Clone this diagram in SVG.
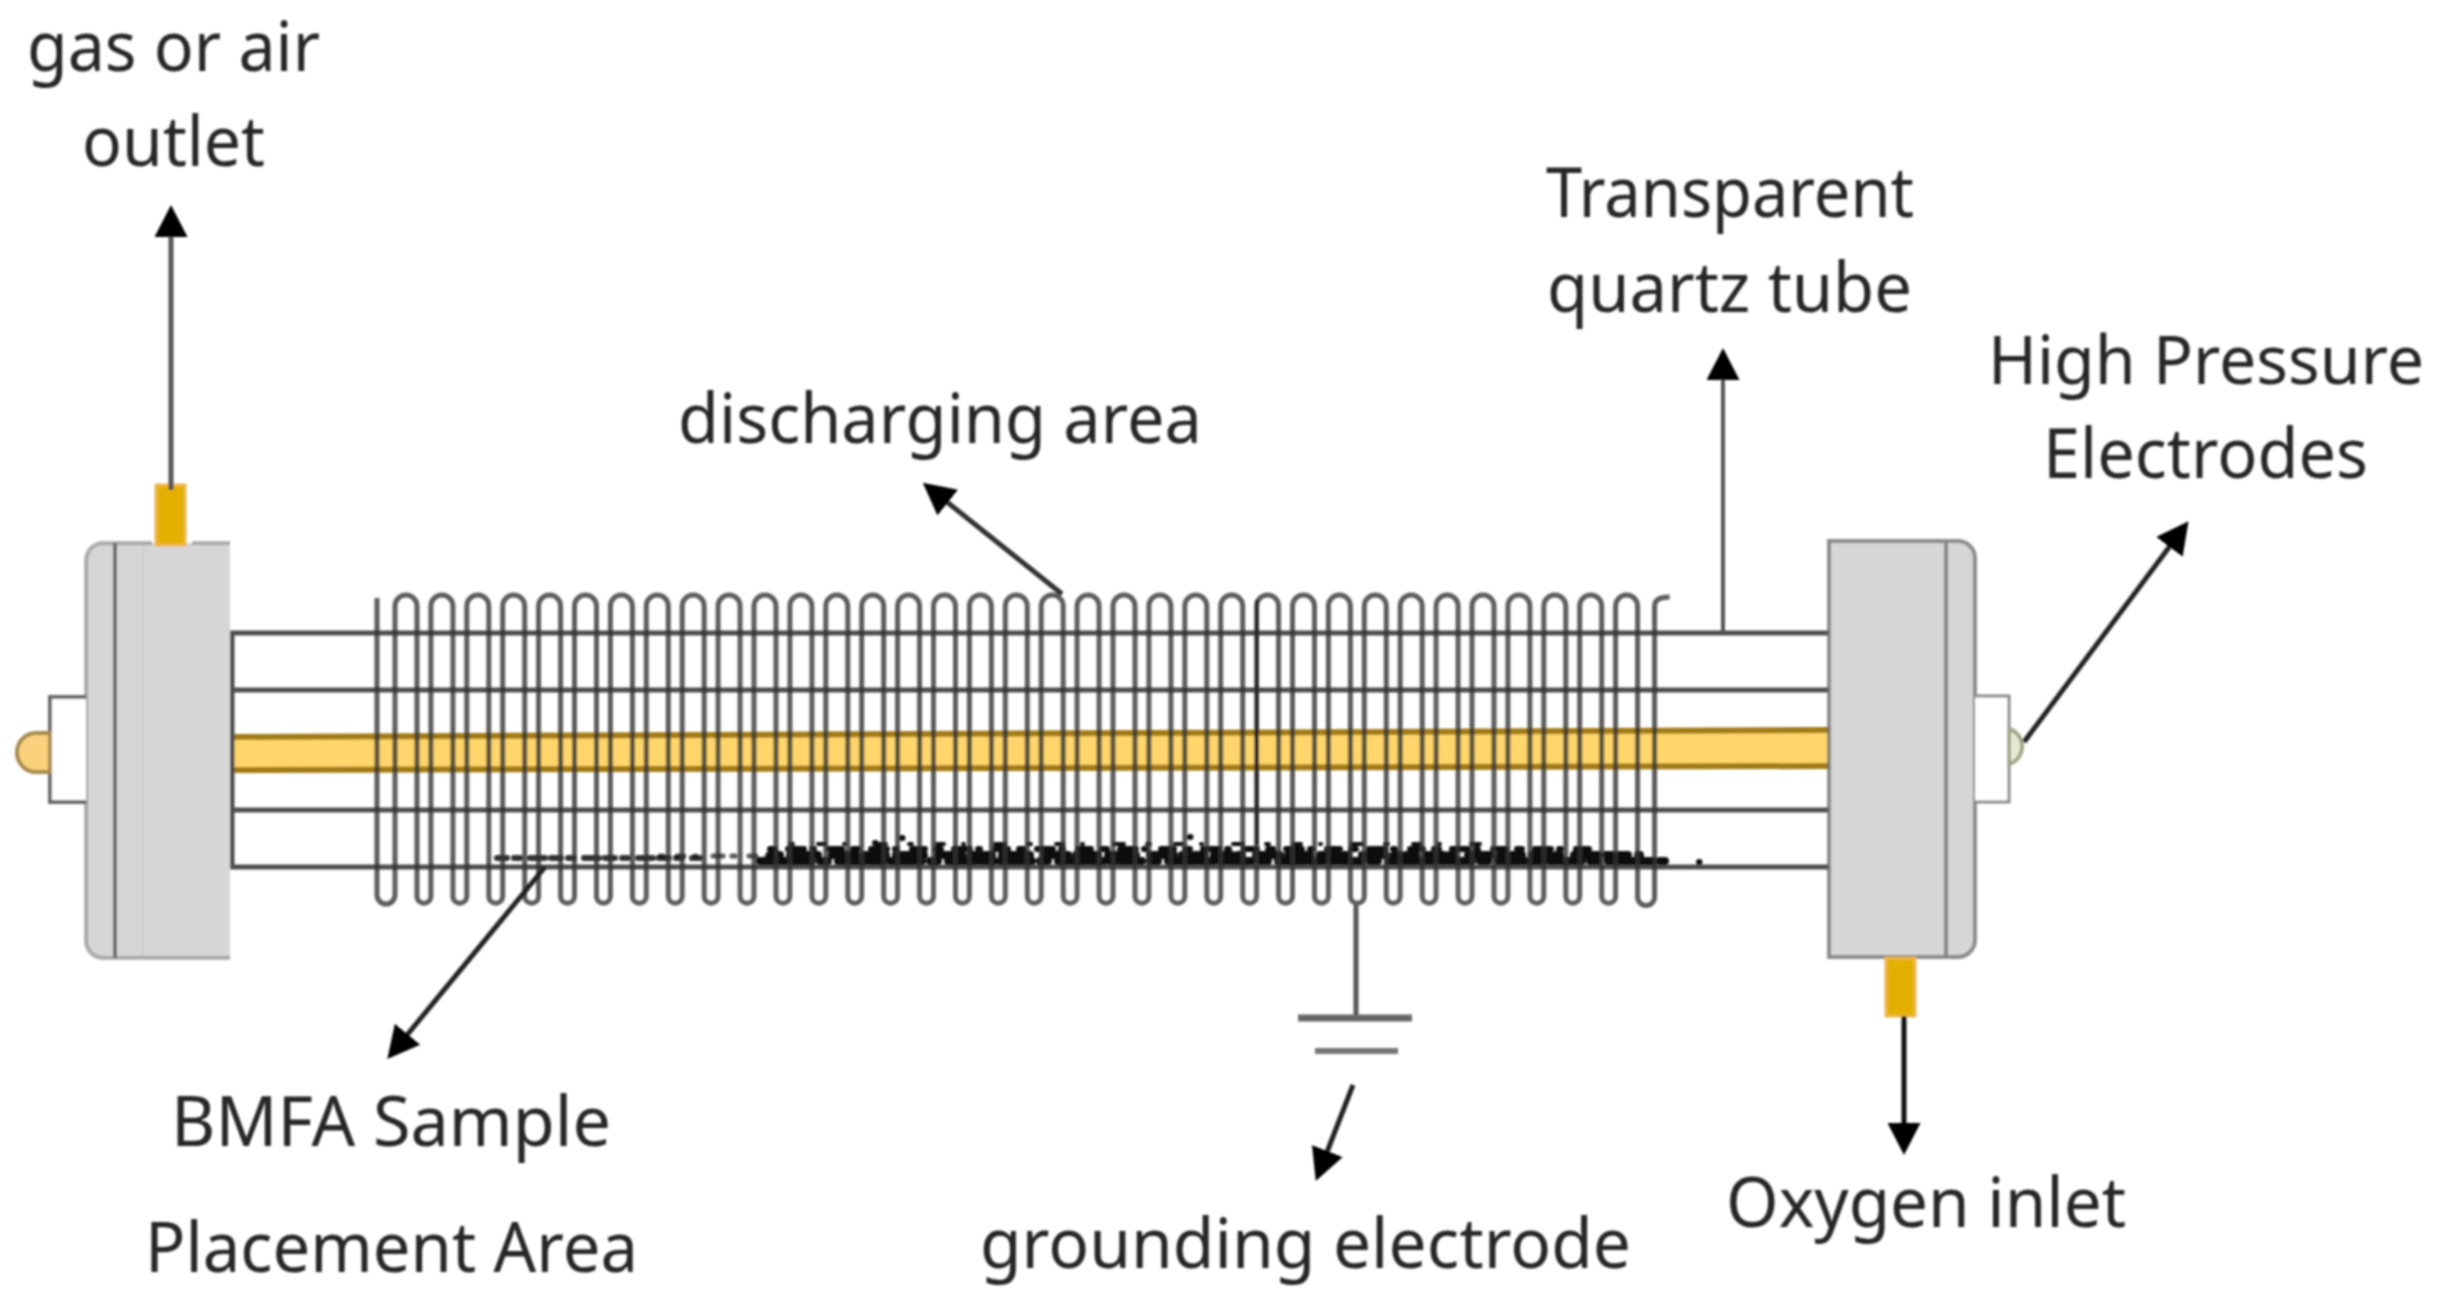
<svg xmlns="http://www.w3.org/2000/svg" width="2439" height="1299" viewBox="0 0 2439 1299">
  <style>
    text { font-family: "Noto Sans", "Open Sans", "Liberation Sans", sans-serif; font-size: 70px; fill: #262626; }
    .flange { fill: #d6d6d6; }
    .edge { fill: none; stroke: #6a6a6a; stroke-width: 4; }
    .tube { fill: none; stroke: #4e4e4e; stroke-width: 5; }
    .pipe { fill: #e3b000; stroke: #eeb64a; stroke-width: 3; }
    .band { fill: #ffd56c; }
    .band-edge { fill: none; stroke: #a27c16; stroke-width: 6; }
    .coil { fill: none; stroke: #333; stroke-opacity: 0.8; stroke-width: 5; }
    .arrow { fill: none; stroke: #333; stroke-width: 5; marker-end: url(#head); }
    .grit { fill: none; stroke: #0c0c0c; stroke-linecap: round; }
  </style>
  <defs>
    <marker id="head" markerUnits="userSpaceOnUse" viewBox="0 0 32 33" refX="1" refY="16.5" markerWidth="32" markerHeight="33" orient="auto">
      <path d="M0 0L32 16.5L0 33Z" fill="#000"/>
    </marker>
    <filter id="soft" x="0" y="0" width="2439" height="1299" filterUnits="userSpaceOnUse"><feGaussianBlur stdDeviation="1.1"/></filter>
  </defs>
  <rect width="2439" height="1299" fill="#fff"/>
  <g filter="url(#soft)">
    <g id="tube">
      <path class="band" d="M230 737L1830 730V766L230 770Z"/>
      <path class="band-edge" d="M230 737L1830 730M230 770L1830 766"/>
      <path class="tube" d="M1830 633H232V867H1830M232 690H1830M232 810H1830"/>
    </g>
    <g id="sample">
      <path class="grit" stroke-width="6" stroke-opacity="0.85" stroke-dasharray="10 7 6 10 15 6" d="M497 858H700"/>
      <path class="grit" stroke-width="8" stroke-dasharray="14 6 5 5 22 8 8 10 27 5" d="M760 861H1668"/>
      <path class="grit" stroke-width="8" stroke-dasharray="10 10 18 6 4 14 24 8 6 6" d="M770 855H1640"/>
      <path class="grit" stroke-width="6" stroke-dasharray="5 13 16 8 2 15 13 11" d="M770 849H1600"/>
      <path class="grit" stroke-width="5" stroke-opacity="0.7" stroke-dasharray="3 14 7 11 1 17 10 9" d="M660 856H780"/>
      <path class="grit" stroke-width="4" stroke-dasharray="3 25 7 19 1 31 10 23" d="M790 844H1480"/>
      <path class="grit" stroke-width="6" d="M875 843h.5M902 838h.5M1190 837h.5M1699 862h.5"/>
    </g>
    <g id="coil">
      <path class="coil" d="M377 598V895a9 9 0 0 0 18 0
        V606a11 11 0 0 1 22 0V897a7 7 0 0 0 13.9 0 V606a11 11 0 0 1 22 0V897a7 7 0 0 0 13.9 0 V606a11 11 0 0 1 22 0V897a7 7 0 0 0 13.9 0 V606a11 11 0 0 1 22 0V897a7 7 0 0 0 13.9 0 V606a11 11 0 0 1 22 0V897a7 7 0 0 0 13.9 0
        V606a11 11 0 0 1 22 0V897a7 7 0 0 0 13.9 0 V606a11 11 0 0 1 22 0V897a7 7 0 0 0 13.9 0 V606a11 11 0 0 1 22 0V897a7 7 0 0 0 13.9 0 V606a11 11 0 0 1 22 0V897a7 7 0 0 0 13.9 0 V606a11 11 0 0 1 22 0V897a7 7 0 0 0 13.9 0
        V606a11 11 0 0 1 22 0V897a7 7 0 0 0 13.9 0 V606a11 11 0 0 1 22 0V897a7 7 0 0 0 13.9 0 V606a11 11 0 0 1 22 0V897a7 7 0 0 0 13.9 0 V606a11 11 0 0 1 22 0V897a7 7 0 0 0 13.9 0 V606a11 11 0 0 1 22 0V897a7 7 0 0 0 13.9 0
        V606a11 11 0 0 1 22 0V897a7 7 0 0 0 13.9 0 V606a11 11 0 0 1 22 0V897a7 7 0 0 0 13.9 0 V606a11 11 0 0 1 22 0V897a7 7 0 0 0 13.9 0 V606a11 11 0 0 1 22 0V897a7 7 0 0 0 13.9 0 V606a11 11 0 0 1 22 0V897a7 7 0 0 0 13.9 0
        V606a11 11 0 0 1 22 0V897a7 7 0 0 0 13.9 0 V606a11 11 0 0 1 22 0V897a7 7 0 0 0 13.9 0 V606a11 11 0 0 1 22 0V897a7 7 0 0 0 13.9 0 V606a11 11 0 0 1 22 0V897a7 7 0 0 0 13.9 0 V606a11 11 0 0 1 22 0V897a7 7 0 0 0 13.9 0
        V606a11 11 0 0 1 22 0V897a7 7 0 0 0 13.9 0 V606a11 11 0 0 1 22 0V897a7 7 0 0 0 13.9 0 V606a11 11 0 0 1 22 0V897a7 7 0 0 0 13.9 0 V606a11 11 0 0 1 22 0V897a7 7 0 0 0 13.9 0 V606a11 11 0 0 1 22 0V897a7 7 0 0 0 13.9 0
        V606a11 11 0 0 1 22 0V897a7 7 0 0 0 13.9 0 V606a11 11 0 0 1 22 0V897a7 7 0 0 0 13.9 0 V606a11 11 0 0 1 22 0V897a7 7 0 0 0 13.9 0 V606a11 11 0 0 1 22 0V897a7 7 0 0 0 13.9 0
        V606a11 11 0 0 1 22 0V897a8.5 8.5 0 0 0 17 0V606q0-9 15-9"/>
      <path d="M1257 600V845" stroke="#222" stroke-width="3" fill="none"/>
    </g>
    <g id="left-flange">
      <path class="flange" d="M230 543H103a17 17 0 0 0-17 17V941a17 17 0 0 0 17 17H230Z"/>
      <path class="edge" stroke-opacity="0.5" d="M152 543H103a17 17 0 0 0-17 17V941a17 17 0 0 0 17 17H230M192 543H230"/>
      <path class="edge" d="M115 543V958"/>
      <path d="M143 545V956" stroke="#cbcbcb" stroke-width="2" fill="none"/>
      <rect x="50" y="697" width="36" height="105" fill="#fff"/>
      <path class="edge" d="M86 697H50V802H86"/>
      <path d="M50 733H36A19 19.5 0 0 0 36 772H50Z" fill="#fad27e" stroke="#a68a4c" stroke-width="4"/>
      <rect class="pipe" x="156" y="485" width="29" height="60"/>
    </g>
    <g id="right-flange">
      <path class="flange" d="M1829 541H1958a17 17 0 0 1 17 17V940a17 17 0 0 1-17 17H1829Z"/>
      <path class="edge" stroke-opacity="0.75" d="M1829 541H1958a17 17 0 0 1 17 17V940a17 17 0 0 1-17 17H1829ZM1946 541V957"/>
      <path d="M1975 696H2009V802H1975" fill="#fff" stroke="#8a8a8a" stroke-width="3"/>
      <path d="M2009 729A17 18 0 0 1 2009 764Z" fill="#e8ead6" stroke="#a3a78a" stroke-width="4"/>
      <rect class="pipe" x="1886" y="958" width="29" height="58"/>
    </g>
    <g id="ground">
      <path d="M1356 905V1018" stroke="#555" stroke-width="5" fill="none"/>
      <path d="M1298 1018H1412" stroke="#666" stroke-width="7" fill="none"/>
      <path d="M1315 1051H1398" stroke="#777" stroke-width="6" fill="none"/>
    </g>
    <g id="connectors">
      <path class="arrow" style="stroke:#555" d="M171 490V236"/>
      <path class="arrow" style="stroke:#555;stroke-width:4" d="M1723 633V379"/>
      <path class="arrow" style="stroke:#111" d="M1904 1016V1124"/>
      <path class="arrow" d="M1062 594L947 502"/>
      <path class="arrow" style="stroke:#222" d="M545 867L407 1035"/>
      <path class="arrow" style="stroke:#222" d="M1353 1085L1327 1152"/>
      <path class="arrow" style="stroke:#222" d="M2024 742L2170 546"/>
    </g>
    <g id="labels">
      <text x="27" y="71" textLength="293" lengthAdjust="spacingAndGlyphs">gas or air</text>
      <text x="82" y="166" textLength="183" lengthAdjust="spacingAndGlyphs">outlet</text>
      <text x="1546" y="217" textLength="368" lengthAdjust="spacingAndGlyphs">Transparent</text>
      <text x="1547" y="312" textLength="365" lengthAdjust="spacingAndGlyphs">quartz tube</text>
      <text x="1988" y="384" textLength="436" lengthAdjust="spacingAndGlyphs" style="font-size:67px">High Pressure</text>
      <text x="2043" y="478" textLength="325" lengthAdjust="spacingAndGlyphs">Electrodes</text>
      <text x="678" y="443" textLength="524" lengthAdjust="spacingAndGlyphs">discharging area</text>
      <text x="171" y="1146" textLength="440" lengthAdjust="spacingAndGlyphs">BMFA Sample</text>
      <text x="145" y="1272" textLength="493" lengthAdjust="spacingAndGlyphs">Placement Area</text>
      <text x="980" y="1268" textLength="651" lengthAdjust="spacingAndGlyphs">grounding electrode</text>
      <text x="1726" y="1227" textLength="400" lengthAdjust="spacingAndGlyphs">Oxygen inlet</text>
    </g>
  </g>
</svg>
